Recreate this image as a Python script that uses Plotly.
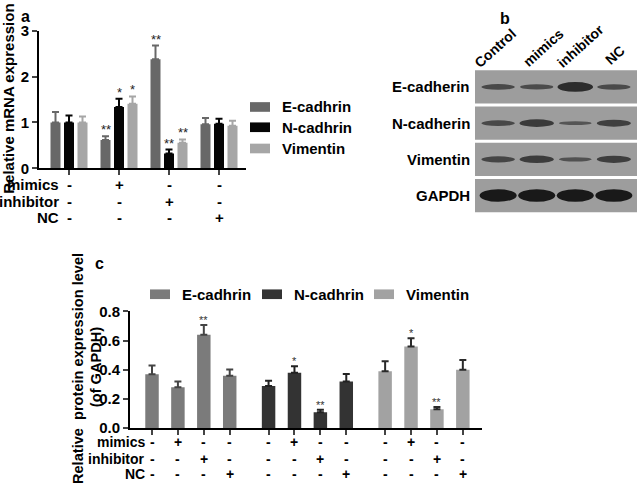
import plotly.graph_objects as go

W, H = 638, 490
FONT = "Liberation Sans, Arial, Helvetica, sans-serif"

# ---------------- data: panel a (relative mRNA expression) ----------------
groups = ["Control", "mimics", "inhibitor", "NC"]
mrna_E = [1.00, 0.62, 2.38, 0.96]
mrna_E_err = [0.23, 0.08, 0.30, 0.14]
mrna_N = [1.00, 1.34, 0.32, 0.97]
mrna_N_err = [0.15, 0.18, 0.09, 0.11]
mrna_V = [1.00, 1.41, 0.56, 0.93]
mrna_V_err = [0.13, 0.16, 0.07, 0.11]
mrna_E_sig = ["", "**", "**", ""]
mrna_N_sig = ["", "*", "**", ""]
mrna_V_sig = ["", "*", "**", ""]

# treatment sign rows
row_names = ["mimics", "inhibitor", "NC"]
sign_rows = [["-", "+", "-", "-"],
             ["-", "-", "+", "-"],
             ["-", "-", "-", "+"]]

# ---------------- data: panel c (protein level / GAPDH) ----------------
prot_E = [0.37, 0.28, 0.64, 0.36]
prot_E_err = [0.06, 0.04, 0.067, 0.042]
prot_N = [0.29, 0.38, 0.11, 0.32]
prot_N_err = [0.035, 0.045, 0.016, 0.052]
prot_V = [0.39, 0.56, 0.13, 0.40]
prot_V_err = [0.068, 0.056, 0.015, 0.068]
prot_E_sig = ["", "", "**", ""]
prot_N_sig = ["", "*", "**", ""]
prot_V_sig = ["", "*", "**", ""]

# ---------------- data: panel b (western blot band intensities) ----------------
blot_proteins = ["E-cadherin", "N-cadherin", "Vimentin", "GAPDH"]
blot_E = [0.32, 0.28, 0.72, 0.30]
blot_N = [0.32, 0.52, 0.14, 0.45]
blot_V = [0.36, 0.50, 0.20, 0.46]
blot_G = [1.00, 1.00, 1.00, 1.00]

series_names = ["E-cadhrin", "N-cadhrin", "Vimentin"]
col_a = ["#686868", "#050505", "#a6a6a6"]
col_c = ["#7b7b7b", "#333333", "#a2a2a2"]
err_c = ["#444444", "#222222", "#2a2a2a"]


def px(x):
    return x / W


def py(y):
    return 1 - y / H


def bold(size, color="black"):
    return dict(size=size, color=color, family=FONT, weight="bold")


fig = go.Figure()
annotations = []
shapes = []


def note(x, y, text, font, xref="paper", yref="paper", xanchor="center", yanchor="middle", **kw):
    annotations.append(dict(x=x, y=y, xref=xref, yref=yref, text=text, showarrow=False,
                            xanchor=xanchor, yanchor=yanchor, font=font, **kw))


# ================= panel a =================
offs_a = [-0.27, 0.0, 0.27]
for k, (vals, errs, sig) in enumerate([(mrna_E, mrna_E_err, mrna_E_sig),
                                       (mrna_N, mrna_N_err, mrna_N_sig),
                                       (mrna_V, mrna_V_err, mrna_V_sig)]):
    xs = [i + offs_a[k] for i in range(len(groups))]
    fig.add_trace(go.Bar(
        x=xs, y=vals, width=0.2, marker=dict(color=col_a[k], line=dict(width=0)),
        error_y=dict(type="data", symmetric=False, array=errs, arrayminus=[0] * len(errs),
                     color=col_a[k], thickness=2, width=3.5),
        xaxis="x", yaxis="y", showlegend=False, name=series_names[k]))
    for i, s in enumerate(sig):
        if s:
            note(xs[i], vals[i] + errs[i], s, dict(size=13, color="#222", family=FONT),
                 xref="x", yref="y", yanchor="bottom", yshift=-3)

row_y_a = [182, 199, 216]
for r, name in enumerate(row_names):
    note(px(61), py(row_y_a[r]), name, bold(15), xanchor="right")
    for i, s in enumerate(sign_rows[r]):
        note(i, py(row_y_a[r]), s, bold(15), xref="x")

note(px(9), py(93), "Relative mRNA expression", bold(15), textangle=-90)
note(px(25), py(8), "a", bold(16))

leg_a_y = [101.5, 122.5, 144.5]
for k in range(3):
    shapes.append(dict(type="rect", xref="paper", yref="paper", x0=px(250), x1=px(270),
                       y0=py(leg_a_y[k] - 5), y1=py(leg_a_y[k] + 5),
                       fillcolor=col_a[k], line=dict(width=0)))
    note(px(280), py(leg_a_y[k]), series_names[k], bold(15), xanchor="left")

# ================= panel c =================
grp_start = [0, 4.5, 9]
for k, (vals, errs, sig) in enumerate([(prot_E, prot_E_err, prot_E_sig),
                                       (prot_N, prot_N_err, prot_N_sig),
                                       (prot_V, prot_V_err, prot_V_sig)]):
    xs = [grp_start[k] + i for i in range(len(groups))]
    fig.add_trace(go.Bar(
        x=xs, y=vals, width=0.52, marker=dict(color=col_c[k], line=dict(width=0)),
        error_y=dict(type="data", symmetric=False, array=errs, arrayminus=[0] * len(errs),
                     color=err_c[k], thickness=2, width=3.5),
        xaxis="x2", yaxis="y2", showlegend=False, name=series_names[k]))
    for i, s in enumerate(sig):
        if s:
            note(xs[i], vals[i] + errs[i], s, dict(size=11, color="#333", family=FONT),
                 xref="x2", yref="y2", yanchor="bottom", yshift=-3)

all_x_c = [grp_start[k] + i for k in range(3) for i in range(4)]
row_y_c = [449, 466, 482]
for r, name in enumerate(row_names):
    note(px(147), py(row_y_c[r]), name, bold(14), xanchor="right")
    for k in range(3):
        for i, s in enumerate(sign_rows[r]):
            note(grp_start[k] + i, py(row_y_c[r]), s, bold(14), xref="x2")

note(px(78), py(373), "Relative\u00a0 protein expression level", bold(14.6), textangle=-90)
note(px(96), py(371), "(of GAPDH)", bold(14.6), textangle=-90)
note(px(99), py(264), "c", bold(16))

leg_c_x = [150, 262, 374]
for k in range(3):
    shapes.append(dict(type="rect", xref="paper", yref="paper", x0=px(leg_c_x[k]), x1=px(leg_c_x[k] + 20),
                       y0=py(300.5), y1=py(290.5), fillcolor=col_c[k], line=dict(width=0)))
    note(px(leg_c_x[k] + 30), py(295.5), series_names[k], bold(15), xanchor="left")

# ================= panel b (blot) =================
blot_rows = [blot_E, blot_N, blot_V, blot_G]
lanes = [1, 2, 3, 4]
px_per_y = 150 / 4.0
for r, row in enumerate(blot_rows):
    shapes.append(dict(type="rect", xref="x3", yref="y3", x0=0.4, x1=4.6, y0=r - 0.46, y1=r + 0.46,
                       fillcolor="#9d9d9d", line=dict(width=0), layer="below"))
    for i, inten in enumerate(row):
        hgt = (2.5 + 10.5 * inten) / px_per_y
        wid = 0.82 + 0.14 * inten
        g = int(95 - 70 * inten)
        shapes.append(dict(type="circle", xref="x3", yref="y3",
                           x0=lanes[i] - wid / 2, x1=lanes[i] + wid / 2,
                           y0=r - hgt / 2, y1=r + hgt / 2,
                           fillcolor=f"rgb({g},{g},{g})", line=dict(width=0), layer="above"))
    note(px(472), r, blot_proteins[r], bold(15), yref="y3", xanchor="right")

col_label_pos = [(-3, 40), (6, 40), (5, 38), (1, 48)]
for i, g in enumerate(groups):
    note(lanes[i], py(col_label_pos[i][1]), g, bold(14), xref="x3",
         xshift=col_label_pos[i][0], textangle=-42)
note(px(505), py(10), "b", bold(16))
fig.add_trace(go.Scatter(x=lanes, y=[1.5] * 4, mode="markers", marker=dict(opacity=0),
                         xaxis="x3", yaxis="y3", showlegend=False, hoverinfo="skip"))

axis_font = bold(15)
fig.update_layout(
    width=W, height=H, margin=dict(l=0, r=0, t=0, b=0),
    paper_bgcolor="white", plot_bgcolor="white", barmode="overlay",
    xaxis=dict(domain=[px(39), px(246)], range=[-0.6, 3.54], tickvals=[0, 1, 2, 3],
               showticklabels=False, ticks="outside", ticklen=5, tickwidth=2,
               showline=True, linewidth=2, linecolor="black", showgrid=False, zeroline=False,
               anchor="y"),
    yaxis=dict(domain=[py(165), py(22.7)], range=[0, 3], tickvals=[0, 1, 2, 3],
               ticks="outside", ticklen=5, tickwidth=2, tickfont=axis_font,
               showline=True, linewidth=2, linecolor="black", showgrid=False, zeroline=False,
               anchor="x"),
    xaxis2=dict(domain=[px(130), px(482)], range=[-0.85, 12.74], tickvals=all_x_c,
                showticklabels=False, ticks="outside", ticklen=5, tickwidth=2,
                showline=True, linewidth=2, linecolor="black", showgrid=False, zeroline=False,
                anchor="y2"),
    yaxis2=dict(domain=[py(434.3), py(313.3)], range=[0, 0.8],
                tickvals=[0, 0.2, 0.4, 0.6, 0.8], ticktext=["0.0", "0.2", "0.4", "0.6", "0.8"],
                ticks="outside", ticklen=5, tickwidth=2, tickfont=axis_font,
                showline=True, linewidth=2, linecolor="black", showgrid=False, zeroline=False,
                anchor="x2"),
    xaxis3=dict(domain=[px(475), px(637)], range=[0.4, 4.6], visible=False, anchor="y3"),
    yaxis3=dict(domain=[py(212), py(62)], range=[3.5, -0.5], visible=False, anchor="x3"),
    annotations=annotations, shapes=shapes,
)

fig.write_html("out.html", config={"displayModeBar": False},
               post_script="document.body.style.margin='0';document.body.style.padding='0';"
                           "document.documentElement.style.overflow='hidden';")
